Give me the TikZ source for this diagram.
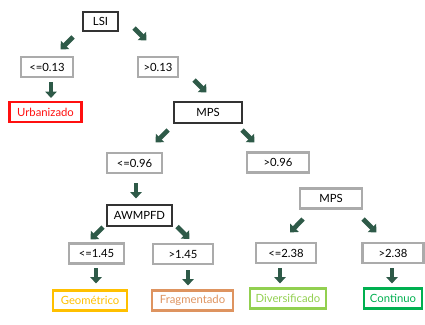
\documentclass[tikz,border=0pt]{standalone}
\usepackage{fontspec}
\setmainfont{Lato}
\usetikzlibrary{arrows.meta}
\definecolor{arrowgreen}{HTML}{2E5A48}
\definecolor{darkbox}{HTML}{333333}
\definecolor{graybox}{HTML}{ABABAB}
\definecolor{urbred}{HTML}{FF1010}
\definecolor{geoyellow}{HTML}{FFC000}
\definecolor{fragorange}{HTML}{DE9460}
\definecolor{divgreen}{HTML}{92D050}
\definecolor{contgreen}{HTML}{00B050}
\tikzset{
  box/.style={rectangle, inner sep=0pt, minimum height=20pt, font=\fontsize{11.3}{13}\selectfont, text=black},
  attr/.style={box, draw=darkbox, line width=1.8pt},
  cond/.style={box, draw=graybox, line width=2.1pt},
  leaf/.style={box, draw=#1, text=#1, line width=2.1pt},
  barrow/.style={draw=arrowgreen, line width=4.6pt, -{Triangle[width=11.5pt,length=6.5pt]}, arrowgreen}
}
\begin{document}
\begin{tikzpicture}[x=1pt,y=-1pt]
\useasboundingbox (0,0) rectangle (425,324);
% nodes
\node[attr, minimum width=35pt, minimum height=19pt] (LSI) at (100.5,21.5) {LSI};
\node[cond, minimum width=52pt] (le013) at (47,67) {<=0.13};
\node[cond, minimum width=40pt] (gt013) at (158,67) {>0.13};
\node[leaf=urbred, minimum width=72pt] (urb) at (45.5,112) {Urbanizado};
\node[attr, minimum width=68pt, minimum height=21pt] (MPS) at (208,112.5) {MPS};
\node[cond, minimum width=55pt] (le096) at (134.5,163) {<=0.96};
\node[cond, minimum width=62pt] (gt096) at (278,162.5) {>0.96};
\node[cond, minimum width=62pt] (MPS2) at (331,198.5) {MPS};
\node[attr, minimum width=65pt, minimum height=21pt] (AW) at (139.5,215.5) {AWMPFD};
\node[cond, minimum width=55pt] (le145) at (96.5,253.5) {<=1.45};
\node[cond, minimum width=60pt] (gt145) at (183,254) {>1.45};
\node[leaf=geoyellow, minimum width=74pt] (geo) at (90,300.5) {Geométrico};
\node[leaf=fragorange, minimum width=81pt] (frag) at (192.5,300.5) {Fragmentado};
\node[cond, minimum width=60pt] (le238) at (286,253) {<=2.38};
\node[cond, minimum width=61pt] (gt238) at (393,253) {>2.38};
\node[leaf=divgreen, minimum width=76pt] (div) at (288,298.5) {Diversificado};
\node[leaf=contgreen, minimum width=58pt] (cont) at (393,298.5) {Continuo};
% arrows
\draw[barrow] (73,37) -- (60.5,49.5);
\draw[barrow] (134,28) -- (146.5,40.5);
\draw[barrow] (51,82) -- (51,98);
\draw[barrow] (194,80) -- (206.5,92.5);
\draw[barrow] (168,130) -- (155.5,142.5);
\draw[barrow] (242,130) -- (254.5,142.5);
\draw[barrow] (136,183) -- (136,198.5);
\draw[barrow] (103,227) -- (90.5,239.5);
\draw[barrow] (177,226.5) -- (189.5,239);
\draw[barrow] (96,268) -- (96,283.5);
\draw[barrow] (188,270) -- (188,285.5);
\draw[barrow] (303,219) -- (290,232.5);
\draw[barrow] (363,219) -- (376.5,232.5);
\draw[barrow] (280,268) -- (280,283.5);
\draw[barrow] (392,268) -- (392,283.5);
\end{tikzpicture}
\end{document}
